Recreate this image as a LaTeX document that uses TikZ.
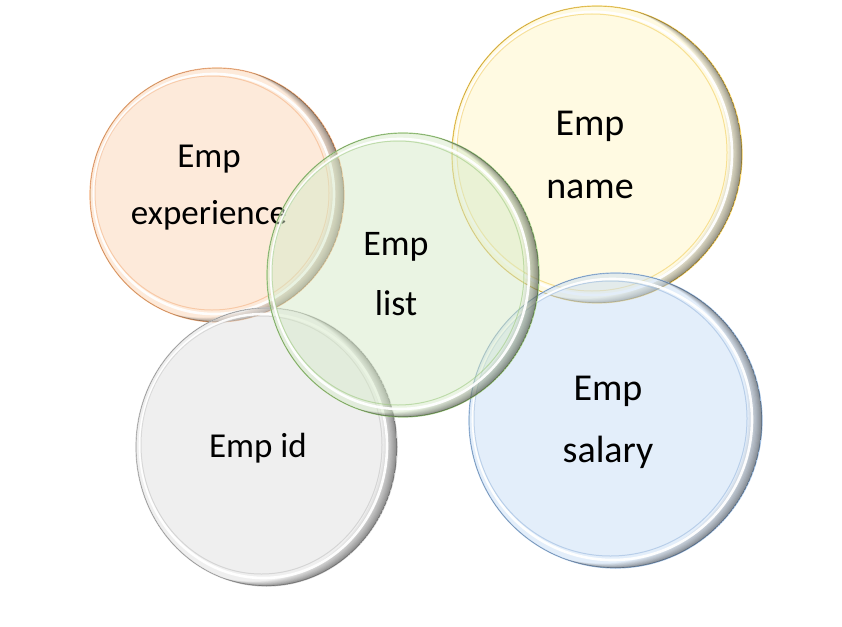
\documentclass[tikz,border=0pt]{standalone}
\usepackage{fontspec}
\setmainfont{Carlito}
\usetikzlibrary{shapes.geometric}
\definecolor{ofill}{RGB}{251,213,182}
\definecolor{oline}{RGB}{244,180,132}
\definecolor{gfill}{RGB}{214,234,200}
\definecolor{gline}{RGB}{160,202,132}
\definecolor{yfill}{RGB}{255,246,198}
\definecolor{yline}{RGB}{242,206,96}
\definecolor{sfill}{RGB}{224,224,224}
\definecolor{sline}{RGB}{195,195,195}
\definecolor{bfill}{RGB}{200,221,245}
\definecolor{bline}{RGB}{155,186,222}
\tikzset{
  bubblebase/.style={ellipse, inner sep=0pt, fill opacity=0.5, draw opacity=1},
  lbl/.style={anchor=base, inner sep=0pt, text=black},
}
% #1 name, #2 cx, #3 cy, #4 rx, #5 ry, #6 fill, #7 line
\newcommand\mybubble[7]{%
  \node[bubblebase, fill=#6, draw=#7, line width=1.2pt,
        minimum width={2*#4pt}, minimum height={2*#5pt}] (#1) at (#2,#3) {};
  \begin{scope}
    \clip (#1.center) ellipse [x radius=#4pt, y radius=#5pt];
    \foreach \s in {0.7,1.4,2.2,3,4,5,6.2,7.5,9,10.5,12,13.5} {
      \fill[black, fill opacity=0.045, even odd rule]
        (#1.center) ellipse [x radius=#4pt, y radius=#5pt]
        ([shift={(-\s,-\s/3)}]#1.center) ellipse [x radius=#4pt, y radius=#5pt];
    }
  \end{scope}
  \draw[white, line width=2.6pt, opacity=0.95]
    ([shift={(-3,-1)}]#1.center) ellipse [x radius={#4pt-7pt}, y radius={#5pt-7pt}];
  \draw[#7, line width=1pt, opacity=0.6]
    ([shift={(-5,-2)}]#1.center) ellipse [x radius={#4pt-10pt}, y radius={#5pt-10pt}];
}
\begin{document}
\begin{tikzpicture}[x=1pt, y=-1pt]
  \useasboundingbox (0,0) rectangle (842,626);

  \mybubble{exp}{217}{195}{127}{127}{ofill}{oline}
  \node[lbl, font=\fontsize{35}{57}\selectfont] (expt) at (209,167)
    {\begin{tabular}[t]{@{}c@{}}Emp\\experience\end{tabular}};

  \mybubble{nam}{597}{154.5}{145}{148.5}{yfill}{yline}
  \node[lbl, font=\fontsize{38}{63}\selectfont] (namt) at (590,135)
    {\begin{tabular}[t]{@{}c@{}}Emp\\name\end{tabular}};

  \mybubble{eid}{266.5}{447}{130.5}{139}{sfill}{sline}
  \node[lbl, font=\fontsize{35}{60}\selectfont] (eidt) at (258,457) {Emp id};

  \mybubble{sal}{615.5}{420.5}{146.5}{147.5}{bfill}{bline}
  \node[lbl, font=\fontsize{38}{62}\selectfont] (salt) at (608,400)
    {\begin{tabular}[t]{@{}c@{}}Emp\\salary\end{tabular}};

  \mybubble{lst}{403}{275}{136}{142}{gfill}{gline}
  \node[lbl, font=\fontsize{36}{60}\selectfont] (lstt) at (396,255)
    {\begin{tabular}[t]{@{}c@{}}Emp\\list\end{tabular}};
\end{tikzpicture}
\end{document}
